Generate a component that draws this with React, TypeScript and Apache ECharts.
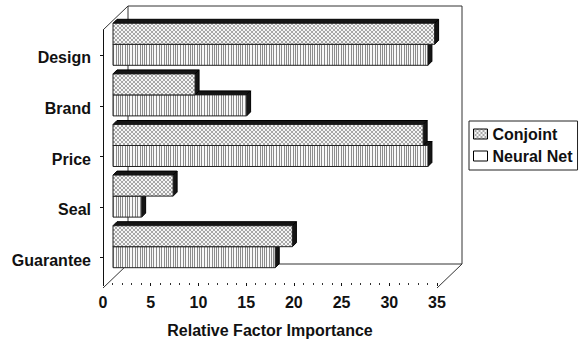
import React, { useEffect, useRef } from 'react';
import * as echarts from 'echarts';

const CATEGORIES = ['Design', 'Brand', 'Price', 'Seal', 'Guarantee'];
const CONJOINT = [33.7, 8.6, 32.5, 6.3, 18.8];
const NEURAL_NET = [33.0, 14.0, 33.0, 3.0, 17.0];
const SERIES_NAMES = ['Conjoint', 'Neural Net'];
const X_MIN = 0;
const X_MAX = 35;
const X_INTERVAL = 5;
const X_TITLE = 'Relative Factor Importance';

const FONT = '"Liberation Sans", Arial, sans-serif';
const FS = 16;

// layout constants (front plane of the 3D box)
const G_LEFT = 103;
const G_RIGHT = 437;
const G_TOP = 30;
const G_BOTTOM = 288;
const W = 581;
const H = 343;
const DEPTH_X = 25;
const DEPTH_Y = 24;
const BAR_DX = 10;
const BAR_DY = -11;
const BAR_FRAC = 0.415;
const BAR_D = 4;

function crossPattern() {
  const c = document.createElement('canvas');
  c.width = 4;
  c.height = 4;
  const g = c.getContext('2d')!;
  g.fillStyle = '#f6f6f6';
  g.fillRect(0, 0, 4, 4);
  g.fillStyle = '#a8a8a8';
  for (let i = 0; i < 4; i++) {
    g.fillRect(i, i, 1, 1);
    g.fillRect(i, 3 - i, 1, 1);
  }
  return { image: c, repeat: 'repeat', imageWidth: 4, imageHeight: 4 };
}

function stripePattern() {
  const c = document.createElement('canvas');
  c.width = 24;
  c.height = 2;
  const g = c.getContext('2d')!;
  g.fillStyle = '#f8f8f8';
  g.fillRect(0, 0, 24, 2);
  g.fillStyle = '#8c8c8c';
  [0, 2, 5, 7, 9, 12, 15, 17, 20, 22].forEach((x) => g.fillRect(x, 0, 1, 2));
  return { image: c, repeat: 'repeat', imageWidth: 24, imageHeight: 2 };
}

function makeRender(isUpper: boolean, fill: any) {
  return (params: any, api: any) => {
    const val = api.value(0);
    const cat = api.value(1);
    const p0 = api.coord([0, cat]);
    const p1 = api.coord([val, cat]);
    const band = api.size([0, 1])[1];
    const h = band * BAR_FRAC;
    const x0 = p0[0] + BAR_DX;
    const x1 = p1[0] + BAR_DX;
    const cy = p0[1] + BAR_DY;
    const yTop = isUpper ? cy - h : cy;
    const yBot = yTop + h;
    const d = BAR_D;
    return {
      type: 'group',
      children: [
        {
          type: 'polygon',
          shape: { points: [[x0, yTop], [x0 + d, yTop - d], [x1 + d, yTop - d], [x1, yTop]] },
          style: { fill: '#151515', stroke: '#000', lineWidth: 1 },
        },
        {
          type: 'polygon',
          shape: { points: [[x1, yTop], [x1 + d, yTop - d], [x1 + d, yBot - d], [x1, yBot]] },
          style: { fill: '#151515', stroke: '#000', lineWidth: 1 },
        },
        {
          type: 'rect',
          shape: { x: x0, y: yTop, width: x1 - x0, height: h },
          style: { fill, stroke: '#222', lineWidth: 1 },
        },
      ],
    };
  };
}

export default function App() {
  const ref = useRef<HTMLDivElement>(null);
  useEffect(() => {
    if (!ref.current) return;
    const chart = echarts.init(ref.current, null, { renderer: 'svg' });
    const cross = crossPattern();
    const stripe = stripePattern();
    const L = G_LEFT, R = G_RIGHT, T = G_TOP, B = G_BOTTOM;
    const bx = DEPTH_X, by = DEPTH_Y;
    const seg = (x1: number, y1: number, x2: number, y2: number) => ({
      type: 'line',
      z: 1,
      shape: { x1, y1, x2, y2 },
      style: { stroke: '#333', lineWidth: 1 },
      silent: true,
    });
    const txt = { fontFamily: FONT, fontWeight: 'bold', fontSize: FS, color: '#111' };
    chart.setOption({
      animation: false,
      backgroundColor: '#fff',
      grid: { left: L, right: W - R, top: T, bottom: H - B, containLabel: false },
      graphic: [
        seg(L + bx, T - by, L + bx, B - by),
        seg(L + bx, T - by, R + bx, T - by),
        seg(R + bx, T - by, R + bx, B - by),
        seg(L + bx, B - by, R + bx, B - by),
        seg(L, T, L + bx, T - by),
        seg(L, B, L + bx, B - by),
        seg(R, B, R + bx, B - by),
      ],
      legend: {
        orient: 'vertical',
        left: 469,
        top: 121,
        itemWidth: 14,
        itemHeight: 10,
        itemGap: 6,
        borderColor: '#222',
        borderWidth: 1,
        padding: [5, 5, 6, 4],
        textStyle: { ...txt, lineHeight: 16 },
        data: [
          { name: SERIES_NAMES[0], icon: 'rect', itemStyle: { color: cross, borderColor: '#000', borderWidth: 1 } },
          { name: SERIES_NAMES[1], icon: 'rect', itemStyle: { color: '#fff', borderColor: '#000', borderWidth: 1 } },
        ],
      },
      xAxis: {
        type: 'value',
        min: X_MIN,
        max: X_MAX,
        interval: X_INTERVAL,
        name: X_TITLE,
        nameLocation: 'middle',
        nameGap: 39,
        nameTextStyle: txt,
        axisLine: { lineStyle: { color: '#111', width: 1 } },
        axisTick: { show: true, length: 3, lineStyle: { color: '#111' } },
        minorTick: { show: true, splitNumber: 5, length: 2, lineStyle: { color: '#333' } },
        splitLine: { show: false },
        axisLabel: { margin: 11, ...txt },
      },
      yAxis: {
        type: 'category',
        data: CATEGORIES,
        inverse: true,
        axisLine: { lineStyle: { color: '#111', width: 1 } },
        axisTick: { show: true, length: 3, alignWithLabel: true, lineStyle: { color: '#111' } },
        axisLabel: {
          margin: 12,
          ...txt,
          formatter: '{a|{value}}',
          rich: { a: { ...txt, padding: [5, 0, 0, 0] } },
        },
        splitLine: { show: false },
      },
      series: [
        {
          name: SERIES_NAMES[0],
          type: 'custom',
          z: 4,
          encode: { x: 0, y: 1 },
          data: CONJOINT.map((v, i) => [v, i]),
          renderItem: makeRender(true, cross),
        },
        {
          name: SERIES_NAMES[1],
          type: 'custom',
          z: 3,
          encode: { x: 0, y: 1 },
          data: NEURAL_NET.map((v, i) => [v, i]),
          renderItem: makeRender(false, stripe),
        },
      ],
    });
    return () => chart.dispose();
  }, []);
  return <div ref={ref} style={{ position: 'fixed', left: 0, top: 0, width: W, height: H }} />;
}
